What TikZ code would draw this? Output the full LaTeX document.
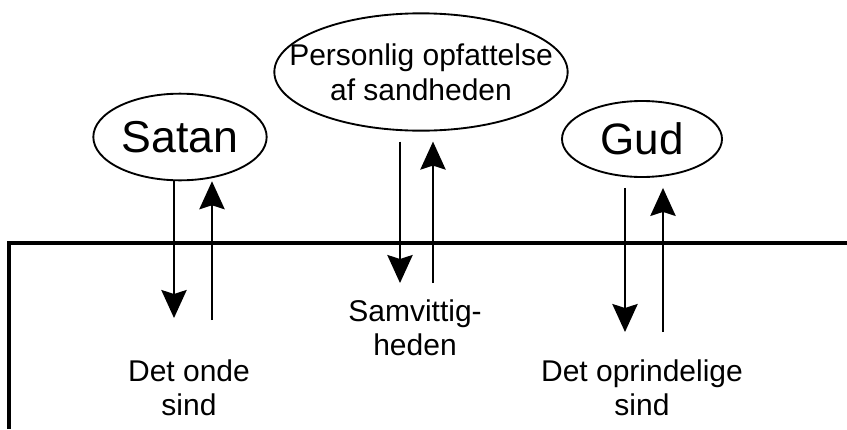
\documentclass[tikz,border=0pt]{standalone}
\usepackage{fontspec}
\setmainfont{Liberation Sans}
\usetikzlibrary{positioning, arrows.meta, shapes.geometric}
\tikzset{sky/.style={ellipse, draw, line width=1.4pt, inner xsep=-40pt, inner ysep=-20pt},
         pil/.style={-{Stealth[length=21pt, width=19pt, inset=3pt]}, line width=1.5pt},
         sind/.style={align=center, anchor=base, font=\fontsize{22.5}{25}\selectfont}}

\begin{document}
\begin{tikzpicture}[x=0.75pt, y=-0.75pt]
        \useasboundingbox (0,0) rectangle (847,429);
        % graensen
        \draw[line width=2.5pt] (9,429) -- (9,243) -- (847,243);
        \node[sky, minimum width=130pt, minimum height=65pt, font=\fontsize{33.5}{40}\selectfont] (satan) at (180,137) {Satan};
        \node[sky, minimum width=220pt, minimum height=88pt, align=center, font=\fontsize{22.5}{26}\selectfont] (opfattelse) at (421,72) {Personlig opfattelse\\af sandheden};
        \node[sky, minimum width=120pt, minimum height=57pt, font=\fontsize{33}{40}\selectfont] (gud) at (642,139) {Gud};
        \node[sind] (ondt) at (189,415) {Det onde\\sind};
        \node[sind] (samvittighed) at (415,355) {Samvittig-\\heden};
        \node[sind] (oprindelig) at (642,415) {Det oprindelige\\sind};
        \coordinate (satan-ned) at (174,318);
        \coordinate (satan-op) at (212,320);
        \coordinate (opf-ned) at (400,283);
        \coordinate (opf-op) at (433,283);
        \coordinate (gud-ned) at (625,332);
        \coordinate (gud-op) at (663,332);
        \draw[pil] (satan.south -| satan-ned) -- (satan-ned);
        \draw[pil] (satan-op) -- (satan-op |- satan.south);
        \draw[pil, shorten <=7.5pt] (opfattelse.south -| opf-ned) -- (opf-ned);
        \draw[pil, shorten >=7.5pt] (opf-op) -- (opf-op |- opfattelse.south);
        \draw[pil, shorten <=7.5pt] (gud.south -| gud-ned) -- (gud-ned);
        \draw[pil, shorten >=7.5pt] (gud-op) -- (gud-op |- gud.south);
\end{tikzpicture}
\end{document}
